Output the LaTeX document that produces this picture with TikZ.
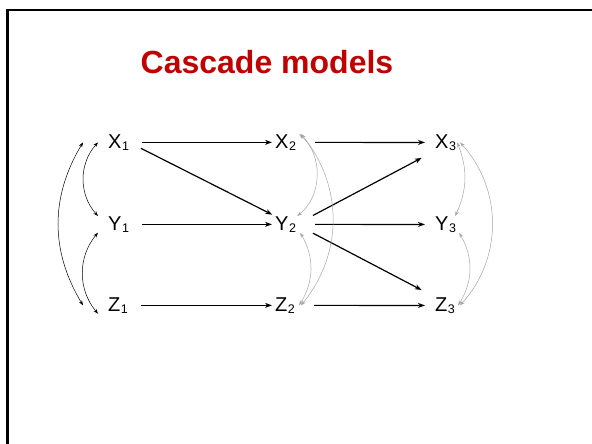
\documentclass[tikz,border=0pt]{standalone}
\usepackage{fontspec}
\setmainfont{Liberation Sans}
\usetikzlibrary{arrows.meta}
\definecolor{titlered}{HTML}{C00000}
\definecolor{arcgray}{HTML}{A6A6A6}
\newcommand{\vsub}[1]{\kern0.5pt\raisebox{-2.5pt}{\fontsize{12.5}{12.5}\selectfont #1}}

\begin{document}
\begin{tikzpicture}[x=1pt,y=-1pt,
    var/.style={anchor=base west,inner sep=0pt,font=\fontsize{20}{22}\selectfont},
    arr/.style={-{Stealth[length=7pt,width=5pt]},line width=1.2pt},
    from1/.style={shorten <=13pt},
    from2/.style={shorten <=19pt},
    to2/.style={shorten >=3pt},
    to3/.style={shorten >=10pt},
    arc1/.style={{Stealth[length=5pt,width=3.5pt]}-{Stealth[length=5pt,width=3.5pt]},line width=0.5pt},
    arc2/.style={arc1,arcgray}]
    \useasboundingbox (0,0) rectangle (592,444);

    % Slide frame
    \draw[line width=2.5pt] (7.5,444) -- (7.5,10) -- (592,10);

    % Title
    \node[anchor=base,font=\fontsize{32}{36}\selectfont\bfseries,text=titlered] (title) at (267,74) {Cascade models};

    % Variables, three waves
    \node[var] (x1) at (108,148) {X\vsub{1}};
    \node[var] (y1) at (108,230) {Y\vsub{1}};
    \node[var] (z1) at (108,311) {Z\vsub{1}};
    \node[var] (x2) at (275,148) {X\vsub{2}};
    \node[var] (y2) at (275,230) {Y\vsub{2}};
    \node[var] (z2) at (275,311) {Z\vsub{2}};
    \node[var] (x3) at (435,148) {X\vsub{3}};
    \node[var] (y3) at (435,230) {Y\vsub{3}};
    \node[var] (z3) at (435,311) {Z\vsub{3}};

    % Stability paths
    \draw[arr,from1,to2] (x1.east) -- (x2.west);
    \draw[arr,from1,to2] (y1.east) -- (y2.west);
    \draw[arr,from1,to2] (z1.east) -- (z2.west);
    \draw[arr,from2,to3] (x2.east) -- (x3.west);
    \draw[arr,from2,to3] (y2.east) -- (y3.west);
    \draw[arr,from2,to3] (z2.east) -- (z3.west);

    % Cross-lagged paths
    \draw[arr,from1,to2] (x1.east) -- (y2.north west);
    \draw[arr,from2,shorten >=15pt] (y2.east) -- (x3.south west);
    \draw[arr,from2,shorten >=15pt] (y2.east) -- (z3.north west);

    % Covariances at wave 1
    \draw[arc1] ([xshift=-10pt]x1.west) to[bend right=42] ([xshift=-10pt]y1.north west);
    \draw[arc1] ([xshift=-10pt]y1.south west) to[bend right=40] ([xshift=-10pt]z1.south west);
    \draw[arc1] ([xshift=-25pt]x1.west) to[bend right=31] ([xshift=-25pt]z1.west);

    % Residual covariances at waves 2 and 3
    \draw[arc2] ([xshift=3pt]x2.north east) to[bend left=50] ([xshift=1pt]y2.north east);
    \draw[arc2] ([xshift=4pt]y2.south east) to[bend left=31] ([xshift=4pt]z2.east);
    \draw[arc2] ([xshift=5pt]x2.north east) to[bend left=39] ([xshift=6pt]z2.east);
    \draw[arc2] ([xshift=1pt]x3.east) to[bend left=23] ([xshift=-1pt]y3.north east);
    \draw[arc2] ([xshift=3pt]y3.south east) to[bend left=31] ([xshift=3pt]z3.east);
    \draw[arc2] ([xshift=4pt]x3.east) to[bend left=42] ([xshift=5pt]z3.east);
\end{tikzpicture}
\end{document}
